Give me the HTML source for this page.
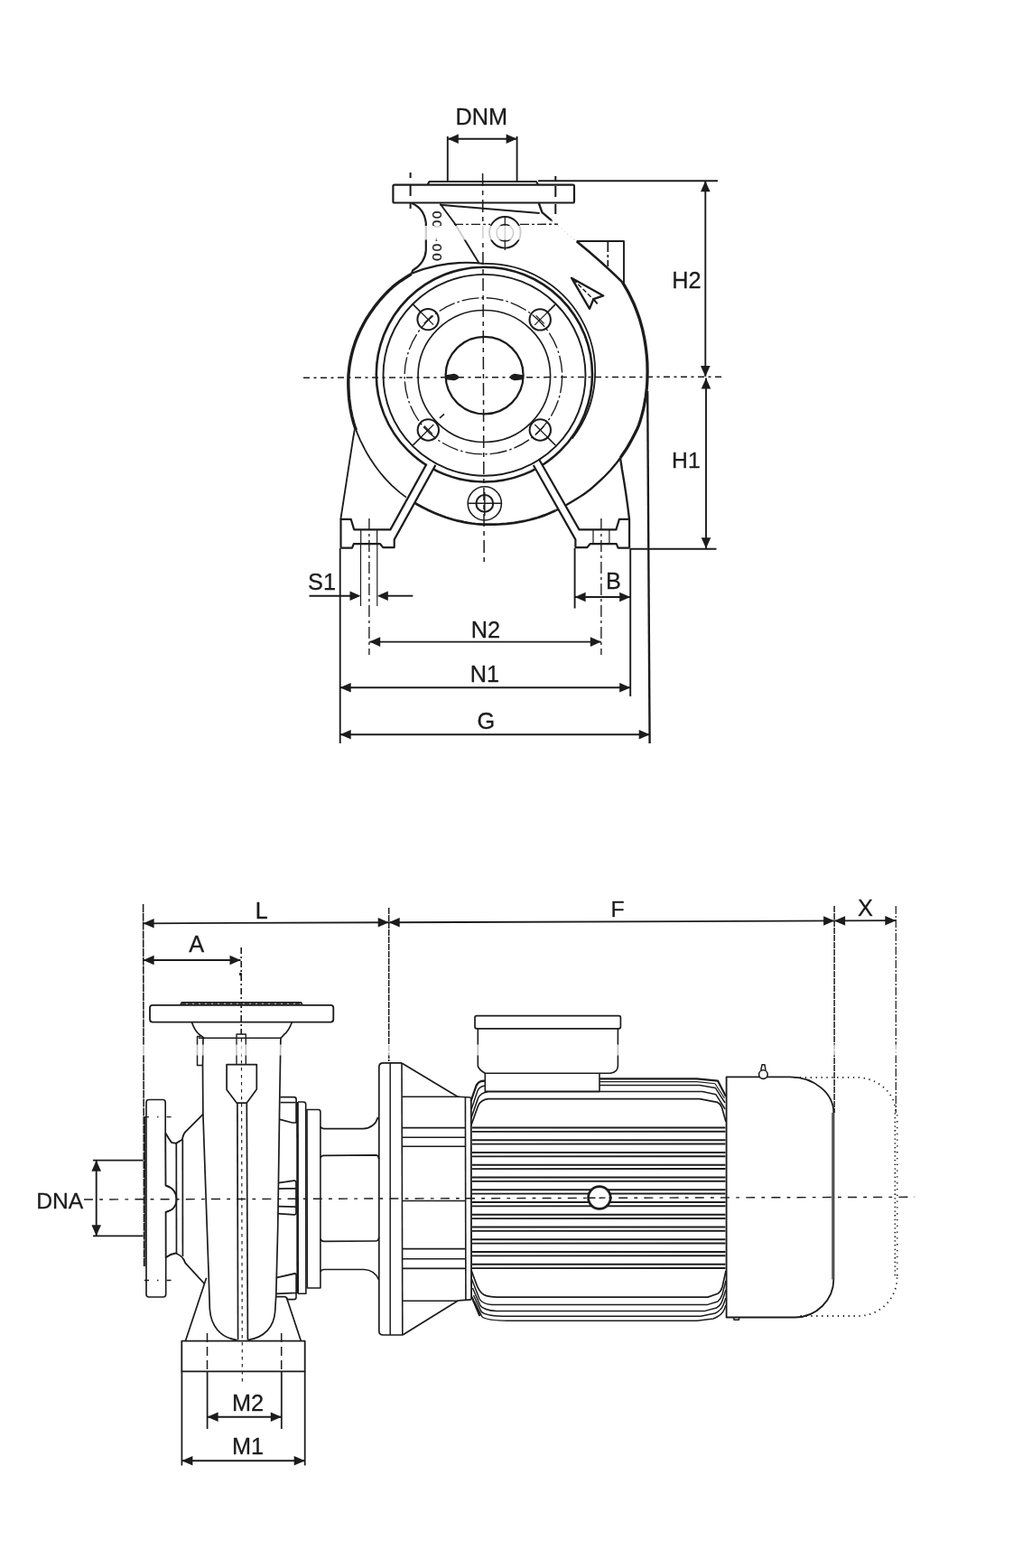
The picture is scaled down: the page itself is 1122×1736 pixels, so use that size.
<!DOCTYPE html>
<html lang="en">
<head>
<meta charset="utf-8">
<title>Pump dimensional drawing</title>
<style>
html,body{margin:0;padding:0;background:#fff;}
body{width:1122px;height:1736px;overflow:hidden;}
svg{display:block;will-change:transform;}
svg text{font-family:"Liberation Sans",sans-serif;fill:#1c1c1c;stroke:#1c1c1c;stroke-width:0.3px;stroke-linejoin:round;}
</style>
</head>
<body>
<svg width="1122" height="1736" viewBox="0 0 1122 1736" fill="none" stroke="#1c1c1c" stroke-linecap="butt" stroke-linejoin="round">
<g id="front-view">
<line x1="336" y1="418.2" x2="800" y2="417.2" stroke-width="1.5" stroke-dasharray="7 4.5 3 4.5"/>
<line x1="534.6" y1="192" x2="536.2" y2="622" stroke-width="1.5" stroke-dasharray="14 5 5 5"/>
<ellipse cx="536.6" cy="415.6" rx="43" ry="42.8" stroke-width="2.24"/>
<ellipse cx="536.3" cy="416.5" rx="73.3" ry="73" stroke-width="1.63"/>
<ellipse cx="535.4" cy="416.3" rx="87.3" ry="86.6" stroke-width="1.36" stroke-dasharray="19 3 2.5 3"/>
<ellipse cx="536.4" cy="414.6" rx="119.6" ry="118.9" stroke-width="2.58"/>
<path d="M536.5,292.0 A120.6,119.8 0 0 1 643.0,351.9 A120.6,119.8 0 0 1 633.6,485.6" stroke-width="1.77" fill="none"/>
<path d="M493.8,415.9 L503,414.4 Q507.5,415.6 507.5,417.6 Q507.5,419.8 503,420.6 L493.8,419.6 Z" stroke-width="1.36" fill="#1c1c1c"/>
<path d="M579.3,415.9 L570,414.4 Q565.5,415.6 565.5,417.6 Q565.5,419.8 570,420.6 L579.3,419.6 Z" stroke-width="1.36" fill="#1c1c1c"/>
<circle cx="474.1" cy="353.6" r="11.7" stroke-width="2.04" fill="none"/>
<line x1="465.8" y1="345.3" x2="457.1" y2="336.6" stroke-width="1.63"/>
<line x1="480.1" y1="359.6" x2="465.8" y2="345.3" stroke-width="1.22"/>
<line x1="478.6" y1="349.1" x2="469.6" y2="358.1" stroke-width="1.22"/>
<circle cx="598.2" cy="353.9" r="11.7" stroke-width="2.04" fill="none"/>
<line x1="606.5" y1="345.59999999999997" x2="615.2" y2="336.9" stroke-width="1.63"/>
<line x1="592.2" y1="359.9" x2="606.5" y2="345.59999999999997" stroke-width="1.22"/>
<line x1="593.7" y1="349.4" x2="602.7" y2="358.4" stroke-width="1.22"/>
<circle cx="474.3" cy="476.0" r="11.7" stroke-width="2.04" fill="none"/>
<line x1="466.0" y1="484.3" x2="457.3" y2="493.0" stroke-width="1.63"/>
<line x1="480.3" y1="470.0" x2="466.0" y2="484.3" stroke-width="1.22"/>
<line x1="478.8" y1="480.5" x2="469.8" y2="471.5" stroke-width="1.22"/>
<circle cx="598.3" cy="476.0" r="11.7" stroke-width="2.04" fill="none"/>
<line x1="606.5999999999999" y1="484.3" x2="615.3" y2="493.0" stroke-width="1.63"/>
<line x1="592.3" y1="470.0" x2="606.5999999999999" y2="484.3" stroke-width="1.22"/>
<line x1="593.8" y1="480.5" x2="602.8" y2="471.5" stroke-width="1.22"/>
<path d="M487,462.8 L492,458.3" stroke-width="1.63" fill="none"/>
<path d="M689.4,312.5 L691.9,316.6 L694.3,320.7 L696.6,324.9 L698.7,329.2 L700.7,333.5 L702.7,337.8 L704.4,342.2 L706.1,346.6 L707.7,351.1 L709.1,355.6 L710.4,360.2 L711.6,364.7 L712.6,369.3 L713.6,374.0 L714.4,378.6 L715.1,383.2 L715.7,387.9 L716.2,392.6 L716.6,397.2 L716.9,401.9 L717.0,406.6 L717.1,411.3 L717.0,415.9 L716.9,420.6 L716.7,425.3 L716.3,429.9 L715.8,434.5 L715.2,439.2 L714.4,443.8 L713.6,448.3 L712.6,452.9 L711.5,457.4 L710.3,461.9 L709.0,466.4 L707.5,470.8 L705.7,475.0 L703.6,479.2 L701.5,483.3 L699.3,487.4 L697.1,491.4 L694.8,495.4 L692.3,499.3 L689.7,503.0 L687.1,506.8" stroke-width="3.26" fill="none"/>
<path d="M687.1,506.8 L684.5,510.5 L681.7,514.1 L678.8,517.6 L675.8,521.0 L672.7,524.3 L669.6,527.5 L666.3,530.6 L663.0,533.7 L659.7,536.7 L656.4,539.6 L653.0,542.5 L649.4,545.2 L645.8,547.7 L642.1,550.1 L638.3,552.5 L634.5,554.8 L630.8,557.0 L627.0,559.3 L623.2,561.4 L619.3,563.4 L615.4,565.3" stroke-width="2.31" fill="none"/>
<path d="M615.4,565.3 L611.4,567.1 L607.4,568.8 L603.3,570.4 L599.1,571.9 L595.0,573.2 L590.8,574.4 L586.6,575.5 L582.4,576.5 L578.1,577.4 L573.8,578.2 L569.6,578.9 L565.3,579.4 L561.0,579.9 L556.7,580.2 L552.4,580.5 L548.1,580.7 L543.8,580.7 L539.6,580.7 L535.3,580.6 L531.0,580.3 L526.8,580.0 L522.5,579.5 L518.3,578.9 L514.1,578.1 L510.0,577.2 L505.8,576.3 L501.7,575.2 L497.7,574.0 L493.7,572.7 L489.7,571.3 L485.8,569.8 L481.9,568.2 L478.0,566.5 L474.2,564.8 L470.5,562.9 L466.8,561.0 L463.1,559.0 L459.5,556.9" stroke-width="2.72" fill="none"/>
<path d="M449.9,550.6 L446.6,548.1 L443.3,545.6 L440.1,542.9 L437.0,540.1 L433.9,537.3 L431.0,534.4 L428.1,531.4 L425.4,528.3 L422.7,525.2 L420.1,522.0 L417.6,518.7 L415.2,515.4 L412.9,512.0 L410.6,508.6 L408.5,505.2 L406.4,501.7 L404.4,498.1 L402.6,494.5 L400.8,490.9 L399.0,487.3 L397.4,483.6 L395.8,479.9 L394.4,476.1" stroke-width="1.77" fill="none"/>
<path d="M394.4,476.1 L393.0,472.3 L391.8,468.5 L390.8,464.7 L389.8,460.8 L389.0,456.9 L388.2,453.0 L387.6,449.1 L387.1,445.2 L386.6,441.2 L386.3,437.3 L386.1,433.4 L385.9,429.4 L385.8,425.5 L385.8,421.6 L385.9,417.7 L386.1,413.8 L386.5,409.9 L386.9,406.0 L387.5,402.2 L388.2,398.4 L389.0,394.6 L389.9,390.8 L390.9,387.1 L392.0,383.4 L393.2,379.7 L394.5,376.1 L396.0,372.5 L397.5,369.0 L399.1,365.6 L400.8,362.2 L402.6,358.8 L404.4,355.5 L406.3,352.2 L408.4,349.1 L410.4,345.9 L412.6,342.9 L414.8,339.8 L417.1,336.9 L419.4,334.0 L421.8,331.2 L424.3,328.4 L426.8,325.7 L429.4,323.0 L432.0,320.4 L434.7,317.9 L437.5,315.6 L440.4,313.3 L443.4,311.2 L446.5,309.2 L449.5,307.2 L452.6,305.3 L455.7,303.4" stroke-width="3.4" fill="none"/>
<path d="M437,204.6 H634.5 Q636,204.6 636,206.1 V223 Q636,224.5 634.5,224.5 H437 Q435.4,224.5 435.4,223 V206.1 Q435.4,204.6 437,204.6 Z" stroke-width="2.18" fill="none"/>
<path d="M473.6,204.4 L475.5,200.9 H594 L596,204.4" stroke-width="2.04" fill="none"/>
<line x1="454.6" y1="191" x2="454.6" y2="197" stroke-width="2.04"/>
<line x1="454.6" y1="205" x2="454.6" y2="217" stroke-width="2.04"/>
<line x1="454.6" y1="225" x2="454.6" y2="231" stroke-width="2.04"/>
<line x1="615.3" y1="195" x2="615.3" y2="200" stroke-width="2.04"/>
<line x1="615.3" y1="206" x2="615.3" y2="218" stroke-width="2.04"/>
<line x1="615.3" y1="226" x2="615.3" y2="237" stroke-width="2.04"/>
<path d="M456.2,225 Q470,231 471.8,247 V277 Q471,291 457,299.5 L455.6,303.5" stroke-width="2.18" fill="none"/>
<path d="M487.4,225.5 L503,246.5 L530.4,291" stroke-width="1.9" fill="none"/>
<line x1="503" y1="248.4" x2="543" y2="248.4" stroke-width="1.36" stroke-dasharray="10 3 3 3"/>
<line x1="576" y1="248.4" x2="618" y2="248.2" stroke-width="1.36" stroke-dasharray="10 3 3 3"/>
<line x1="487.4" y1="226.8" x2="597.7" y2="236" stroke-width="1.9"/>
<path d="M456.5,302.5 Q495,287 536.5,292" stroke-width="2.18" fill="none"/>
<path d="M596.8,225 L600.4,235.2 L611,244.2" stroke-width="2.31" fill="none"/>
<path d="M611,244.2 L638.7,267.2" stroke-width="1.36" fill="none" stroke-dasharray="1.5 3" stroke="#777"/>
<path d="M638.7,267.2 Q668,291 689.5,312.7" stroke-width="2.58" fill="none"/>
<circle cx="559.3" cy="257.3" r="17.3" stroke-width="1.9" fill="none"/>
<circle cx="559.3" cy="257.8" r="9.3" stroke-width="1.5" fill="none"/>
<line x1="559.3" y1="240" x2="559.3" y2="277" stroke-width="1.22"/>
<path d="M638.7,267 H691 V314.5" stroke-width="1.9" fill="none"/>
<line x1="673.3" y1="267" x2="673.3" y2="295" stroke-width="1.77" stroke-dasharray="12 3 3 3"/>
<path d="M633,307.7 L668.3,327.4 L657.3,331.2 L653,341.8 Z" stroke-width="2.31" fill="none"/>
<line x1="635" y1="309.5" x2="657" y2="331.2" stroke-width="1.5" stroke-dasharray="5 2.5"/>
<path d="M657.3,331.2 L661.7,336.4" stroke-width="2.04" fill="none"/>
<text transform="translate(479.3,233.4) rotate(90)" font-size="15.5" letter-spacing="1.8" fill="#2a2a2a">00<tspan dx="8">-</tspan><tspan dx="0.5">00</tspan></text>
<path d="M392.8,475.5 L391,486 L377.3,575" stroke-width="1.84" fill="none"/>
<path d="M687,507 Q688,513 689,520 Q693.5,545 697,574.5" stroke-width="2.31" fill="none"/>
<polygon points="432.4,585.5 472.5,513.6 475.5,509.5 482.4,514.2 436.7,597.4" fill="#fff" stroke="none"/>
<path d="M377.5,606.7 V574.9 H388.7 L392.2,586.4 H432.4 L472.5,513.6" stroke-width="2.18" fill="none"/>
<path d="M377.5,606.7 H390 L391.8,602.2 H421.1 L424.3,606.1 H436.7 V597.4 L482.4,514.9" stroke-width="2.18" fill="none"/>
<line x1="399.7" y1="586.8" x2="399.7" y2="602" stroke-width="1.22"/>
<line x1="417.6" y1="586.8" x2="417.6" y2="602" stroke-width="1.22"/>
<polygon points="641.5,586 597.3,509 593.5,511 590.8,515 637.4,597.4" fill="#fff" stroke="none"/>
<path d="M697.0999999999999,606.7 V574.9 H685.8999999999999 L682.3999999999999,586.4 H641.5 L597.3,509.0" stroke-width="2.18" fill="none"/>
<path d="M697.0999999999999,606.7 H684.5999999999999 L682.8,602.2 H653.4999999999999 L650.3,606.1 H637.4 V597.4 L590.8,515.0" stroke-width="2.18" fill="none"/>
<line x1="674.8999999999999" y1="586.8" x2="674.8999999999999" y2="602" stroke-width="1.22"/>
<line x1="656.9999999999999" y1="586.8" x2="656.9999999999999" y2="602" stroke-width="1.22"/>
<ellipse cx="536.5" cy="415.3" rx="112" ry="111.4" stroke-width="1.9"/>
<line x1="399.5" y1="602" x2="399.5" y2="671" stroke-width="1.16"/>
<line x1="417.8" y1="602" x2="417.8" y2="671" stroke-width="1.16"/>
<line x1="408.9" y1="574" x2="408.9" y2="725" stroke-width="1.36" stroke-dasharray="13 4 3 4"/>
<line x1="665.9" y1="574" x2="665.9" y2="725" stroke-width="1.36" stroke-dasharray="13 4 3 4"/>
<circle cx="536.8" cy="557.4" r="18.6" stroke-width="1.56" fill="none"/>
<circle cx="536.8" cy="557.4" r="9.4" stroke-width="2.04" fill="none"/>
<line x1="536.8" y1="545" x2="536.8" y2="571" stroke-width="1.5"/>
<line x1="519" y1="557.2" x2="555" y2="557.2" stroke-width="1.5"/>
<line x1="376.7" y1="607" x2="376.7" y2="823" stroke-width="1.9"/>
<line x1="698.2" y1="607" x2="698.2" y2="771" stroke-width="1.9"/>
<line x1="717.2" y1="433" x2="719.6" y2="823" stroke-width="2.38"/>
<line x1="636.6" y1="607" x2="636.6" y2="673.5" stroke-width="1.9"/>
<line x1="596" y1="200.3" x2="795" y2="200.3" stroke-width="1.9"/>
<line x1="698" y1="607.8" x2="793.5" y2="607.8" stroke-width="1.9"/>
<line x1="495.8" y1="151" x2="495.8" y2="200.3" stroke-width="1.9"/>
<line x1="572.6" y1="151" x2="572.6" y2="200.3" stroke-width="1.9"/>
<line x1="495.8" y1="153.7" x2="572.6" y2="153.7" stroke-width="1.9"/>
<polygon points="495.8,153.7 507.8,148.4 507.8,159.0" fill="#1c1c1c" stroke="none"/>
<polygon points="572.6,153.7 560.6,159.0 560.6,148.4" fill="#1c1c1c" stroke="none"/>
<line x1="781.3" y1="200.3" x2="781.3" y2="416.9" stroke-width="1.9"/>
<polygon points="781.3,200.3 786.6,212.3 776.0,212.3" fill="#1c1c1c" stroke="none"/>
<polygon points="781.3,416.9 776.0,404.9 786.6,404.9" fill="#1c1c1c" stroke="none"/>
<line x1="782.0" y1="418.6" x2="782.0" y2="607.3" stroke-width="1.9"/>
<polygon points="782.0,418.6 787.3,430.6 776.7,430.6" fill="#1c1c1c" stroke="none"/>
<polygon points="782.0,607.3 776.7,595.3 787.3,595.3" fill="#1c1c1c" stroke="none"/>
<line x1="342.5" y1="659.7" x2="388" y2="659.7" stroke-width="1.9"/>
<polygon points="399.5,659.7 387.5,665.0 387.5,654.4" fill="#1c1c1c" stroke="none"/>
<line x1="429" y1="659.7" x2="457.3" y2="659.7" stroke-width="1.9"/>
<polygon points="417.8,659.7 429.8,654.4 429.8,665.0" fill="#1c1c1c" stroke="none"/>
<line x1="636.6" y1="661" x2="698.2" y2="661" stroke-width="1.9"/>
<polygon points="636.6,661.0 648.6,655.7 648.6,666.3" fill="#1c1c1c" stroke="none"/>
<polygon points="698.2,661.0 686.2,666.3 686.2,655.7" fill="#1c1c1c" stroke="none"/>
<line x1="409.2" y1="710.6" x2="665.8" y2="710.6" stroke-width="1.9"/>
<polygon points="409.2,710.6 421.2,705.3 421.2,715.9" fill="#1c1c1c" stroke="none"/>
<polygon points="665.8,710.6 653.8,715.9 653.8,705.3" fill="#1c1c1c" stroke="none"/>
<line x1="376.7" y1="761.3" x2="698.2" y2="761.3" stroke-width="1.9"/>
<polygon points="376.7,761.3 388.7,756.0 388.7,766.6" fill="#1c1c1c" stroke="none"/>
<polygon points="698.2,761.3 686.2,766.6 686.2,756.0" fill="#1c1c1c" stroke="none"/>
<line x1="376.7" y1="813.3" x2="719.7" y2="813.3" stroke-width="1.9"/>
<polygon points="376.7,813.3 388.7,808.0 388.7,818.6" fill="#1c1c1c" stroke="none"/>
<polygon points="719.7,813.3 707.7,818.6 707.7,808.0" fill="#1c1c1c" stroke="none"/>
<rect x="466" y="250" width="178" height="15.5" fill="#fff" fill-opacity="0.78" stroke="none"/>
<text x="533.3" y="138" font-size="25.3" text-anchor="middle">DNM</text>
<text x="760.5" y="318.5" font-size="25.3" text-anchor="middle">H2</text>
<text x="759.9" y="518.3" font-size="24.7" text-anchor="middle">H1</text>
<text x="356.5" y="653.3" font-size="25.3" text-anchor="middle">S1</text>
<text x="679.5" y="652.3" font-size="25.3" text-anchor="middle">B</text>
<text x="538" y="705.8" font-size="25.3" text-anchor="middle">N2</text>
<text x="537" y="754.6" font-size="25.3" text-anchor="middle">N1</text>
<text x="538.4" y="806.6" font-size="25.3" text-anchor="middle">G</text>
</g>
<g id="side-view">
<line x1="93" y1="1328.0" x2="1013" y2="1325.3" stroke-width="1.43" stroke-dasharray="10 7.2 3.8 7.2" stroke-dashoffset="0"/>
<line x1="158.6" y1="1001" x2="159.6" y2="1402" stroke-width="1.56" stroke-dasharray="9 0.8"/>
<line x1="430.7" y1="1005" x2="430.7" y2="1175" stroke-width="1.5" stroke-dasharray="7 1"/>
<line x1="924.1" y1="1003" x2="924.1" y2="1232" stroke-width="1.5" stroke-dasharray="7 1"/>
<line x1="992.3" y1="1003" x2="992.3" y2="1232" stroke-width="1.22" stroke-dasharray="9 2 2 2"/>
<line x1="158.6" y1="1022.3" x2="992.3" y2="1019.2" stroke-width="1.77"/>
<polygon points="158.6,1022.3 170.6,1017.0 170.6,1027.6" fill="#1c1c1c" stroke="none"/>
<polygon points="430.7,1021.3 418.7,1026.6 418.7,1016.0" fill="#1c1c1c" stroke="none"/>
<polygon points="430.7,1021.3 442.7,1016.0 442.7,1026.6" fill="#1c1c1c" stroke="none"/>
<polygon points="924.1,1019.5 912.1,1024.8 912.1,1014.2" fill="#1c1c1c" stroke="none"/>
<polygon points="924.1,1019.5 936.1,1014.2 936.1,1024.8" fill="#1c1c1c" stroke="none"/>
<polygon points="992.3,1019.2 980.3,1024.5 980.3,1013.9" fill="#1c1c1c" stroke="none"/>
<line x1="158.6" y1="1063" x2="266.5" y2="1063" stroke-width="1.9"/>
<polygon points="158.6,1063.0 170.6,1057.7 170.6,1068.3" fill="#1c1c1c" stroke="none"/>
<polygon points="266.5,1063.0 254.5,1068.3 254.5,1057.7" fill="#1c1c1c" stroke="none"/>
<line x1="267.2" y1="1049" x2="267.2" y2="1145" stroke-width="1.63" stroke-dasharray="7 3 2 3"/>
<circle cx="266.5" cy="1078.5" r="1.0" stroke-width="1.36" fill="#1c1c1c"/>
<line x1="103" y1="1284.7" x2="158.6" y2="1284.7" stroke-width="1.77"/>
<line x1="103" y1="1368.3" x2="158.6" y2="1368.3" stroke-width="1.77"/>
<line x1="106.7" y1="1284.7" x2="106.7" y2="1368.3" stroke-width="1.9"/>
<polygon points="106.7,1284.7 112.0,1296.7 101.4,1296.7" fill="#1c1c1c" stroke="none"/>
<polygon points="106.7,1368.3 101.4,1356.3 112.0,1356.3" fill="#1c1c1c" stroke="none"/>
<line x1="229.6" y1="1518.4" x2="229.6" y2="1582" stroke-width="1.77"/>
<line x1="311.8" y1="1518.4" x2="311.8" y2="1582" stroke-width="1.77"/>
<line x1="201.4" y1="1518.4" x2="201.4" y2="1622.5" stroke-width="1.77"/>
<line x1="337.7" y1="1518.4" x2="337.7" y2="1622.5" stroke-width="1.77"/>
<line x1="229.6" y1="1568.8" x2="311.8" y2="1568.8" stroke-width="1.9"/>
<polygon points="229.6,1568.8 241.6,1563.5 241.6,1574.1" fill="#1c1c1c" stroke="none"/>
<polygon points="311.8,1568.8 299.8,1574.1 299.8,1563.5" fill="#1c1c1c" stroke="none"/>
<line x1="201.4" y1="1617.3" x2="337.7" y2="1617.3" stroke-width="1.9"/>
<polygon points="201.4,1617.3 213.4,1612.0 213.4,1622.6" fill="#1c1c1c" stroke="none"/>
<polygon points="337.7,1617.3 325.7,1622.6 325.7,1612.0" fill="#1c1c1c" stroke="none"/>
<path d="M169,1112.8 H366.3 Q369.3,1112.8 369.3,1115.8 V1128.6 Q369.3,1131.6 366.3,1131.6 H169 Q166,1131.6 166,1128.6 V1115.8 Q166,1112.8 169,1112.8 Z" stroke-width="1.83" fill="none"/>
<path d="M199.7,1112.6 L201.5,1109.8 H333.5 L335,1112.6" stroke-width="1.6" fill="none"/>
<line x1="200.5" y1="1111.2" x2="334.5" y2="1111.2" stroke-width="2.28" stroke-dasharray="6 1" stroke="#333"/>
<path d="M212.4,1131.8 Q216,1142 221.5,1146 L226,1149.3" stroke-width="1.71" fill="none"/>
<path d="M323.4,1131.8 Q319.5,1142 314.5,1145.5 L311,1149.3" stroke-width="1.71" fill="none"/>
<line x1="220" y1="1149.3" x2="311" y2="1149.3" stroke-width="1.49"/>
<path d="M222,1147.6 H218.5 V1179.6 H224.5" stroke-width="1.49" fill="none"/>
<path d="M225,1149.3 L224.5,1180 L224.9,1234 L229.3,1360 L231.1,1410 L232.3,1449 C233.5,1468 244,1481 262.5,1483.6" stroke-width="1.71" fill="none"/>
<path d="M310.9,1149.3 L309.8,1214 L307.7,1360 L305.8,1433 L304.7,1452 C303.5,1469 293,1481 274.6,1483.6" stroke-width="1.71" fill="none"/>
<path d="M262,1178.6 V1145 H272.3 V1178.6" stroke-width="1.37" fill="none"/>
<path d="M251.1,1178.6 H284.3 V1206 L273.2,1221.2 H262.3 L251.1,1206.5 Z" stroke-width="1.71" fill="none"/>
<line x1="262.9" y1="1221.2" x2="263.6" y2="1483.6" stroke-width="1.71"/>
<line x1="273.3" y1="1221.2" x2="274.4" y2="1483.6" stroke-width="1.71"/>
<line x1="267.4" y1="1150" x2="268.4" y2="1531" stroke-width="1.14" stroke-dasharray="3.5 4.5"/>
<path d="M183.2,1254.3 V1220.5 Q183.2,1217.5 180.2,1217.5 H165 Q162,1217.5 162,1220.5 V1433 Q162,1436 165,1436 H180.7 Q183.7,1436 183.7,1433 V1392" stroke-width="1.66" fill="none"/>
<line x1="160.4" y1="1236" x2="160.9" y2="1402" stroke-width="1.14"/>
<path d="M183.2,1254.3 Q187,1261 190,1264.9 L194.9,1265.9 L201.8,1261.8 Q203,1256 204.9,1253.7 L224.9,1233.7" stroke-width="1.83" fill="none"/>
<path d="M183.2,1254.3 L183.5,1312.5 Q195.3,1316 195.5,1327.9 Q195.3,1339 183.6,1342 L183.7,1392.3 Q189,1388.2 194.5,1387.5 Q201,1390 203.5,1394.5 L205.3,1398.3 L226.6,1421.5" stroke-width="1.83" fill="none"/>
<line x1="195.3" y1="1266" x2="195.5" y2="1388.2" stroke-width="1.71"/>
<line x1="202.3" y1="1261.8" x2="202.4" y2="1391" stroke-width="1.71"/>
<line x1="160" y1="1236.6" x2="194" y2="1236.6" stroke-width="1.37" stroke-dasharray="5 9 1.5 9"/>
<line x1="160" y1="1417.5" x2="194" y2="1417.5" stroke-width="1.37" stroke-dasharray="5 9 1.5 9"/>
<path d="M228.6,1414.8 L205.4,1484.7" stroke-width="1.71" fill="none"/>
<path d="M317.2,1436 L333.4,1484.7" stroke-width="1.71" fill="none"/>
<path d="M201.3,1484.7 H337.7 V1518.4 H201.3 Z" stroke-width="1.83" fill="none"/>
<line x1="229.5" y1="1476" x2="229.5" y2="1518.4" stroke-width="1.49" stroke-dasharray="10 5"/>
<line x1="311.7" y1="1476" x2="311.7" y2="1518.4" stroke-width="1.49" stroke-dasharray="10 5"/>
<path d="M310.4,1214.6 H325.5 Q328,1214.6 328.1,1217 V1243 H323.7 L310,1239.3" stroke-width="1.71" fill="none"/>
<line x1="310.6" y1="1220.6" x2="327.4" y2="1220.6" stroke-width="1.6"/>
<line x1="329.5" y1="1220" x2="329.7" y2="1432.3" stroke-width="2.63"/>
<path d="M330,1220 H336 Q338.6,1220 338.7,1222.5 L338.9,1432.3 H330" stroke-width="1.6" fill="none"/>
<path d="M340,1228.5 H352.4 Q354.9,1228.5 354.9,1231 V1426 H340.3 Z" stroke-width="1.6" fill="none"/>
<path d="M308.3,1309.6 L325.8,1307.2 Q327.8,1307 328,1309 V1343 Q327.8,1345 325.8,1344.8 L307.6,1343.6 M308.3,1316.2 L327.6,1315.6 M307.8,1335.6 L327.6,1336.2" stroke-width="1.71" fill="none"/>
<path d="M306,1414.6 L326.5,1410 Q328.2,1410 328.2,1412 V1431.4 L306.3,1432.4" stroke-width="1.83" fill="none"/>
<path d="M306,1435.6 H315.5 Q317.5,1436 318.3,1438.6 H325.6 Q328,1438.6 328,1436.4 V1432" stroke-width="1.6" fill="none"/>
<path d="M354.9,1247.4 Q356,1249.7 359,1249.7 H402 Q415,1249 418.6,1237" stroke-width="1.71" fill="none"/>
<path d="M354.9,1282 Q355.5,1279.4 358.5,1279.3 L416,1278.9 Q419.3,1279 419.6,1283" stroke-width="1.71" fill="none"/>
<path d="M354.9,1371.5 Q355.5,1374.3 358.5,1374.3 L416,1374.0 Q419.3,1374 419.6,1370" stroke-width="1.71" fill="none"/>
<path d="M354.9,1408 Q356,1405.5 359,1405.5 H403 Q415,1406 419.6,1417" stroke-width="1.71" fill="none"/>
<path d="M445,1176.9 H424.5 Q419.8,1176.9 419.8,1181.5 V1473.4 Q419.8,1478 424.5,1478 H446" stroke-width="1.71" fill="none"/>
<line x1="432.2" y1="1177" x2="432.2" y2="1478" stroke-width="1.49"/>
<line x1="445" y1="1177" x2="445.8" y2="1478" stroke-width="1.6"/>
<path d="M445,1177 L507,1214.2 L521.5,1215" stroke-width="1.71" fill="none"/>
<path d="M446,1478 L507.3,1440 L522,1438.8" stroke-width="1.71" fill="none"/>
<line x1="445" y1="1214.2" x2="507" y2="1214.2" stroke-width="1.6"/>
<line x1="446" y1="1440.3" x2="507" y2="1440.3" stroke-width="1.6"/>
<line x1="445.3" y1="1248.6" x2="515.3" y2="1248.6" stroke-width="1.6"/>
<line x1="445.3" y1="1259.3" x2="515.3" y2="1259.3" stroke-width="1.6"/>
<line x1="445.3" y1="1269.3" x2="515.3" y2="1269.3" stroke-width="1.6"/>
<line x1="445.3" y1="1382.6" x2="515.3" y2="1382.6" stroke-width="1.6"/>
<line x1="445.3" y1="1393.8" x2="515.3" y2="1393.8" stroke-width="1.6"/>
<line x1="445.3" y1="1404.4" x2="515.3" y2="1404.4" stroke-width="1.6"/>
<line x1="445.3" y1="1329.6" x2="515.3" y2="1329.4" stroke-width="1.49"/>
<line x1="515.4" y1="1214.6" x2="515.9" y2="1439.5" stroke-width="1.6"/>
<line x1="521.8" y1="1215" x2="522.1" y2="1438.6" stroke-width="1.83"/>
<path d="M528,1124.6 H685.4 Q687.4,1124.6 687.4,1126.6 V1136.8 Q687.4,1138.8 685.4,1138.8 H528 Q526,1138.8 526,1136.8 V1126.6 Q526,1124.6 528,1124.6 Z" stroke-width="1.71" fill="none"/>
<path d="M529.3,1138.8 V1180 Q530,1184 537.3,1188.2 H676 Q684.4,1187 684.4,1180 V1138.8" stroke-width="1.6" fill="none"/>
<path d="M537.3,1188.2 V1208.2 H664 V1188.2" stroke-width="1.6" fill="none"/>
<path d="M664,1194.3 H772 L795,1196.6 L804,1214" stroke-width="2.17" fill="none"/>
<path d="M664,1197.6 H772 L792,1199.8 L802.5,1216" stroke-width="1.14" fill="none"/>
<path d="M664,1201.6 H775 L792.5,1204.6 L803,1221" stroke-width="1.49" fill="none"/>
<path d="M664,1208.6 H778 L793,1211.8 L803.2,1228" stroke-width="1.49" fill="none"/>
<path d="M521.6,1219 L527.5,1202 Q529.5,1198 533,1197 L537,1196.6" stroke-width="2.28" fill="none"/>
<path d="M522.2,1228 L529,1207.5 Q531,1203 537,1202" stroke-width="1.49" fill="none"/>
<path d="M521.8,1238 L529.5,1216 Q532.5,1209.5 541,1208.7 H664" stroke-width="1.6" fill="none"/>
<path d="M521.8,1246 L529.5,1224.5 Q532.5,1217.2 541,1216.6 H775 L794.5,1220.4 Q798,1222 799.5,1226 L804,1242" stroke-width="1.71" fill="none"/>
<path d="M521.9,1406 L527,1420 Q530.5,1430.5 536,1433.5 Q541,1436.1 551,1436.1 H784 L795,1432.2 Q798.5,1430 800,1425 L804,1407" stroke-width="1.71" fill="none"/>
<path d="M522.4,1416 L531,1438 Q534,1443.6 545,1444.6 H783 L795,1441 Q798.5,1438 800,1433 L804,1418" stroke-width="1.49" fill="none"/>
<path d="M523.5,1426 L532,1445.5 Q535.5,1450.6 550,1451.6 H780 L793.5,1448 Q798.5,1445 800,1440 L804,1428" stroke-width="1.49" fill="none"/>
<path d="M524.5,1434 L533,1452 Q537,1456.6 556,1457.3 H776 L792,1454 Q799,1450.5 801,1445 L804,1437" stroke-width="1.49" fill="none"/>
<path d="M525.5,1441 L534,1458 Q540,1462 562,1462.2 H772 L790,1460 Q800,1456 802,1450 L804,1445" stroke-width="1.49" fill="none"/>
<path d="M522.6,1436 L531.5,1457" stroke-width="2.28" fill="none"/>
<line x1="523" y1="1248.6" x2="803.5" y2="1248.3999999999999" stroke-width="1.97"/>
<line x1="523" y1="1252.8999999999999" x2="803.5" y2="1252.6999999999998" stroke-width="1.9"/>
<line x1="523" y1="1262.35" x2="803.5" y2="1262.1499999999999" stroke-width="1.97"/>
<line x1="523" y1="1266.6499999999999" x2="803.5" y2="1266.4499999999998" stroke-width="1.9"/>
<line x1="523" y1="1276.1" x2="803.5" y2="1275.8999999999999" stroke-width="1.97"/>
<line x1="523" y1="1280.3999999999999" x2="803.5" y2="1280.1999999999998" stroke-width="1.9"/>
<line x1="523" y1="1289.85" x2="803.5" y2="1289.6499999999999" stroke-width="1.97"/>
<line x1="523" y1="1294.1499999999999" x2="803.5" y2="1293.9499999999998" stroke-width="1.9"/>
<line x1="523" y1="1303.6" x2="803.5" y2="1303.3999999999999" stroke-width="1.97"/>
<line x1="523" y1="1307.8999999999999" x2="803.5" y2="1307.6999999999998" stroke-width="1.9"/>
<line x1="523" y1="1317.35" x2="803.5" y2="1317.1499999999999" stroke-width="1.97"/>
<line x1="523" y1="1321.6499999999999" x2="803.5" y2="1321.4499999999998" stroke-width="1.9"/>
<line x1="523" y1="1331.1" x2="803.5" y2="1330.8999999999999" stroke-width="1.97"/>
<line x1="523" y1="1335.3999999999999" x2="803.5" y2="1335.1999999999998" stroke-width="1.9"/>
<line x1="523" y1="1344.85" x2="803.5" y2="1344.6499999999999" stroke-width="1.97"/>
<line x1="523" y1="1349.1499999999999" x2="803.5" y2="1348.9499999999998" stroke-width="1.9"/>
<line x1="523" y1="1358.6" x2="803.5" y2="1358.3999999999999" stroke-width="1.97"/>
<line x1="523" y1="1362.8999999999999" x2="803.5" y2="1362.6999999999998" stroke-width="1.9"/>
<line x1="523" y1="1372.35" x2="803.5" y2="1372.1499999999999" stroke-width="1.97"/>
<line x1="523" y1="1376.6499999999999" x2="803.5" y2="1376.4499999999998" stroke-width="1.9"/>
<line x1="523" y1="1386.1" x2="803.5" y2="1385.8999999999999" stroke-width="1.97"/>
<line x1="523" y1="1390.3999999999999" x2="803.5" y2="1390.1999999999998" stroke-width="1.9"/>
<line x1="523" y1="1399.85" x2="803.5" y2="1399.6499999999999" stroke-width="1.97"/>
<line x1="523" y1="1404.1499999999999" x2="803.5" y2="1403.9499999999998" stroke-width="1.9"/>
<circle cx="663.9" cy="1326.0" r="12.3" stroke-width="2.72" fill="#fff"/>
<line x1="652.5" y1="1326.3" x2="675.5" y2="1326.1" stroke-width="1.37" stroke-dasharray="7 4"/>
<path d="M804.6,1458.5 V1192.4 H875 A48.5,40 0 0 1 923.4,1232.4 V1416 A43,42.5 0 0 1 880.5,1458.5 Z" stroke-width="1.83" fill="none"/>
<line x1="922.5" y1="1232" x2="922.5" y2="1416.5" stroke-width="2.63" stroke="#555"/>
<circle cx="845.4" cy="1189.6" r="4.8" stroke-width="1.6" fill="#fff"/>
<path d="M842.8,1185 L844,1178.8 H847 L848,1185" stroke-width="1.49" fill="none"/>
<path d="M813,1458.8 V1461.3 H818.5 V1458.8" stroke-width="1.49" fill="none"/>
<path d="M880,1192.8 H948 A44,39.5 0 0 1 992.2,1232.3" stroke-width="1.77" fill="none" stroke-dasharray="1.3 4.6"/>
<path d="M991.4,1232.3 V1414.5" stroke-width="1.77" fill="none" stroke-dasharray="1.3 3.4"/>
<path d="M993.8,1234.3 V1414.5" stroke-width="1.5" fill="none" stroke-dasharray="1.3 5.5"/>
<path d="M993.6,1414.5 A43,42.5 0 0 1 951,1457 H882" stroke-width="1.77" fill="none" stroke-dasharray="1.3 4.6"/>
<rect x="150" y="1156.5" width="860" height="12" fill="#fff" fill-opacity="0.7" stroke="none"/>
<text x="289.6" y="1016.5" font-size="25" text-anchor="middle">L</text>
<text x="684.2" y="1015.4" font-size="24.8" text-anchor="middle">F</text>
<text x="958.5" y="1014" font-size="25.3" text-anchor="middle">X</text>
<text x="217.8" y="1054" font-size="25.3" text-anchor="middle">A</text>
<text x="66.2" y="1338.1" font-size="24.7" text-anchor="middle">DNA</text>
<text x="274.5" y="1562.2" font-size="25.3" text-anchor="middle">M2</text>
<text x="274.5" y="1609.9" font-size="25.3" text-anchor="middle">M1</text>
</g>
</svg>
</body>
</html>
